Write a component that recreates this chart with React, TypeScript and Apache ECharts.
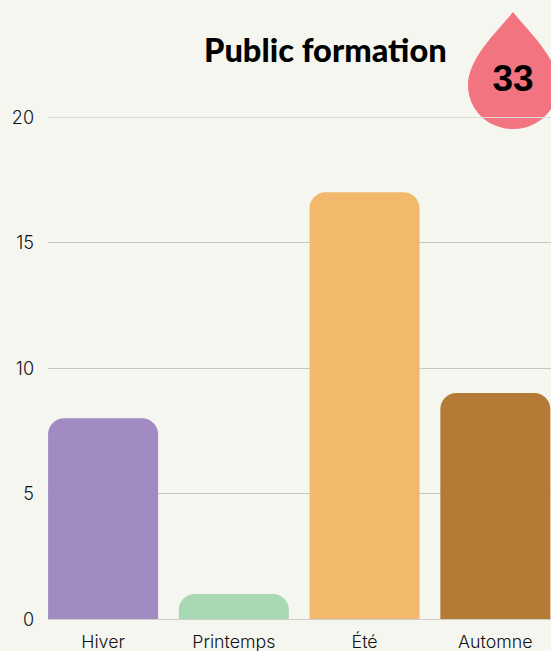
import React, { useEffect, useRef } from "react";
import * as echarts from "echarts";

const categories = ["Hiver", "Printemps", "Été", "Automne"];
const values = [8, 1, 17, 9];
const barColors = ["#a18bc2", "#a9d8b5", "#f2b86c", "#b47b36"];
const titleText = "Public formation";
const badgeText = "33";

const DROP = "M45 0 C58 17 90 45 90 73 C90 98 70 117 45 117 C20 117 0 98 0 73 C0 45 32 17 45 0 Z";

export default function App() {
  const ref = useRef<HTMLDivElement>(null);
  useEffect(() => {
    if (!ref.current) return;
    echarts.graphic.registerShape("drop", echarts.graphic.extendPath(DROP, {}) as any);
    const chart = echarts.init(ref.current, null, { renderer: "svg" });
    const font = "Inter, sans-serif";
    chart.setOption({
      animation: false,
      backgroundColor: "#f6f6f1",
      grid: [
        { left: 48, right: 0, top: 117, bottom: 32, outerBoundsMode: "none" },
        { left: 37.7, width: 523, top: 117, bottom: 32, outerBoundsMode: "none" },
      ],
      xAxis: [
        { type: "value", gridIndex: 0, show: false, min: 0, max: 1 },
        {
          type: "category",
          gridIndex: 1,
          data: categories,
          axisLine: { show: false },
          axisTick: { show: false },
          axisLabel: { color: "#111", fontFamily: font, fontSize: 17.8, margin: 13, fontWeight: 300 },
        },
      ],
      yAxis: [
        {
          type: "value",
          gridIndex: 0,
          min: 0,
          max: 20,
          interval: 5,
          axisLine: { show: false },
          axisTick: { show: false },
          axisLabel: { color: "#111", fontFamily: font, fontSize: 18, margin: 14, fontWeight: 300 },
          splitLine: {
            show: true,
            lineStyle: { color: ["#cfcfc9", "#c6c6c0", "#c6c6c0", "#c6c6c0", "#dcdcd6"], width: 1 },
          },
        },
        { type: "value", gridIndex: 1, min: 0, max: 20, interval: 5, show: false, splitLine: { show: false } },
      ],
      series: [
        {
          type: "bar",
          xAxisIndex: 1,
          yAxisIndex: 1,
          barWidth: 110,
          data: values.map((v, i) => ({
            value: v,
            itemStyle: { color: barColors[i], borderRadius: [16, 16, 0, 0] },
          })),
        },
      ],
      graphic: [
        {
          type: "text",
          x: 204,
          y: 33,
          style: { text: titleText, fontFamily: "Lato, sans-serif", fontWeight: 900, fontSize: 32.6, fill: "#000" },
        },
        { type: "drop", x: 468, y: 12, style: { fill: "#f27480" } },
        {
          type: "text",
          x: 513,
          y: 78,
          style: {
            text: badgeText,
            fontFamily: "'Liberation Sans', sans-serif",
            fontWeight: 700,
            fontSize: 37,
            fill: "#000",
            align: "center",
            verticalAlign: "middle",
          },
        },
      ],
    });
    return () => chart.dispose();
  }, []);
  return <div ref={ref} style={{ position: "fixed", left: 0, top: 0, width: 551, height: 651 }} />;
}
